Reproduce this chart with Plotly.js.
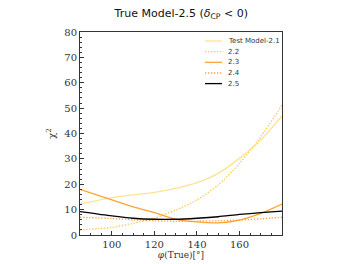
<!DOCTYPE html>
<html><head><meta charset="utf-8">
<script src="https://cdn.plot.ly/plotly-3.0.1.min.js"></script>
<style>body{margin:0;background:#fff}</style>
</head><body><div id="chart" style="width:352px;height:264px"></div>
<script>
const phi = [85, 100, 110, 120, 130, 140, 150, 160, 170, 180];
const m21 = [12.2, 14.7, 15.8, 16.8, 18.4, 20.6, 24.3, 30.2, 37.4, 46.9];
const m22 = [2.0, 3.0, 4.6, 6.6, 9.8, 13.8, 19.7, 28.2, 38.7, 51.2];
const m23 = [18.0, 13.8, 11.1, 8.8, 6.2, 5.2, 4.8, 5.9, 8.5, 12.2];
const m24 = [7.0, 6.5, 6.0, 5.6, 5.4, 5.5, 5.6, 5.9, 6.4, 7.0];
const m25 = [9.2, 7.5, 6.6, 6.2, 6.2, 6.6, 7.2, 8.1, 8.8, 9.4];
const names = ['Test Model-2.1', '2.2', '2.3', '2.4', '2.5'];
const series = [m21, m22, m23, m24, m25];
const colors = ['#fee391', '#fec44f', '#fea332', '#fd9f4a', '#000000'];
const dashes = ['solid', '1.3px,1.7px', 'solid', '1.3px,1.7px', 'solid'];
const widths = [1.3, 1.3, 1.3, 1.3, 1.3];
const traces = series.map((y, i) => ({
  x: phi, y: y, name: names[i], type: 'scatter', mode: 'lines',
  line: {color: colors[i], dash: dashes[i], width: widths[i], shape: 'spline', smoothing: 0.6}
}));
// compact legend drawn in paper coordinates (plot area: x 80..282, y 32..235)
const L = 80, W = 202, B = 235, H = 203;
const px = v => (v - L) / W, py = v => (B - v) / H;
const legRows = [41, 51.7, 62.3, 73, 83.6];
const shapes = [], annotations = [];
names.forEach((n, i) => {
  shapes.push({type: 'line', xref: 'paper', yref: 'paper', x0: px(205), x1: px(222), y0: py(legRows[i]), y1: py(legRows[i]),
    line: {color: colors[i], dash: dashes[i], width: widths[i]}});
  annotations.push({xref: 'paper', yref: 'paper', x: px(226), y: py(legRows[i]), xanchor: 'left', yanchor: 'middle',
    text: n, showarrow: false, font: {family: 'DejaVu Sans', size: 7, color: '#333'}});
});
const axisCommon = {
  showgrid: false, zeroline: false, showline: true, mirror: true,
  linecolor: '#333', linewidth: 1, ticks: 'inside', ticklen: 4, tickcolor: '#333',
  tickfont: {family: 'DejaVu Serif', size: 10, color: '#333'}
};
Plotly.newPlot('chart', traces, {
  width: 352, height: 264,
  margin: {l: 80, r: 70, t: 32, b: 29},
  paper_bgcolor: '#fff', plot_bgcolor: '#fff',
  title: {text: 'True Model-2.5 (<i>δ</i><sub>CP</sub> < 0)', font: {family: 'DejaVu Sans', size: 11, color: '#111'}, x: 0.515, xanchor: 'center', y: 0.965, yanchor: 'top'},
  xaxis: Object.assign({}, axisCommon, {range: [85, 180], tickvals: [100, 120, 140, 160],
    minor: {dtick: 5, ticks: 'inside', ticklen: 2, tickcolor: '#333'},
    title: {text: '<i>φ</i>(True)[°]', font: {family: 'DejaVu Serif', size: 9, color: '#333'}, standoff: 2}}),
  yaxis: Object.assign({}, axisCommon, {range: [0, 80], dtick: 10,
    minor: {dtick: 2, ticks: 'inside', ticklen: 2, tickcolor: '#333'},
    title: {text: 'χ<sup>2</sup>', font: {family: 'DejaVu Serif', size: 10, color: '#333'}, standoff: 6}}),
  showlegend: false,
  shapes: shapes,
  annotations: annotations
}, {displayModeBar: false, staticPlot: true});
</script></body></html>
